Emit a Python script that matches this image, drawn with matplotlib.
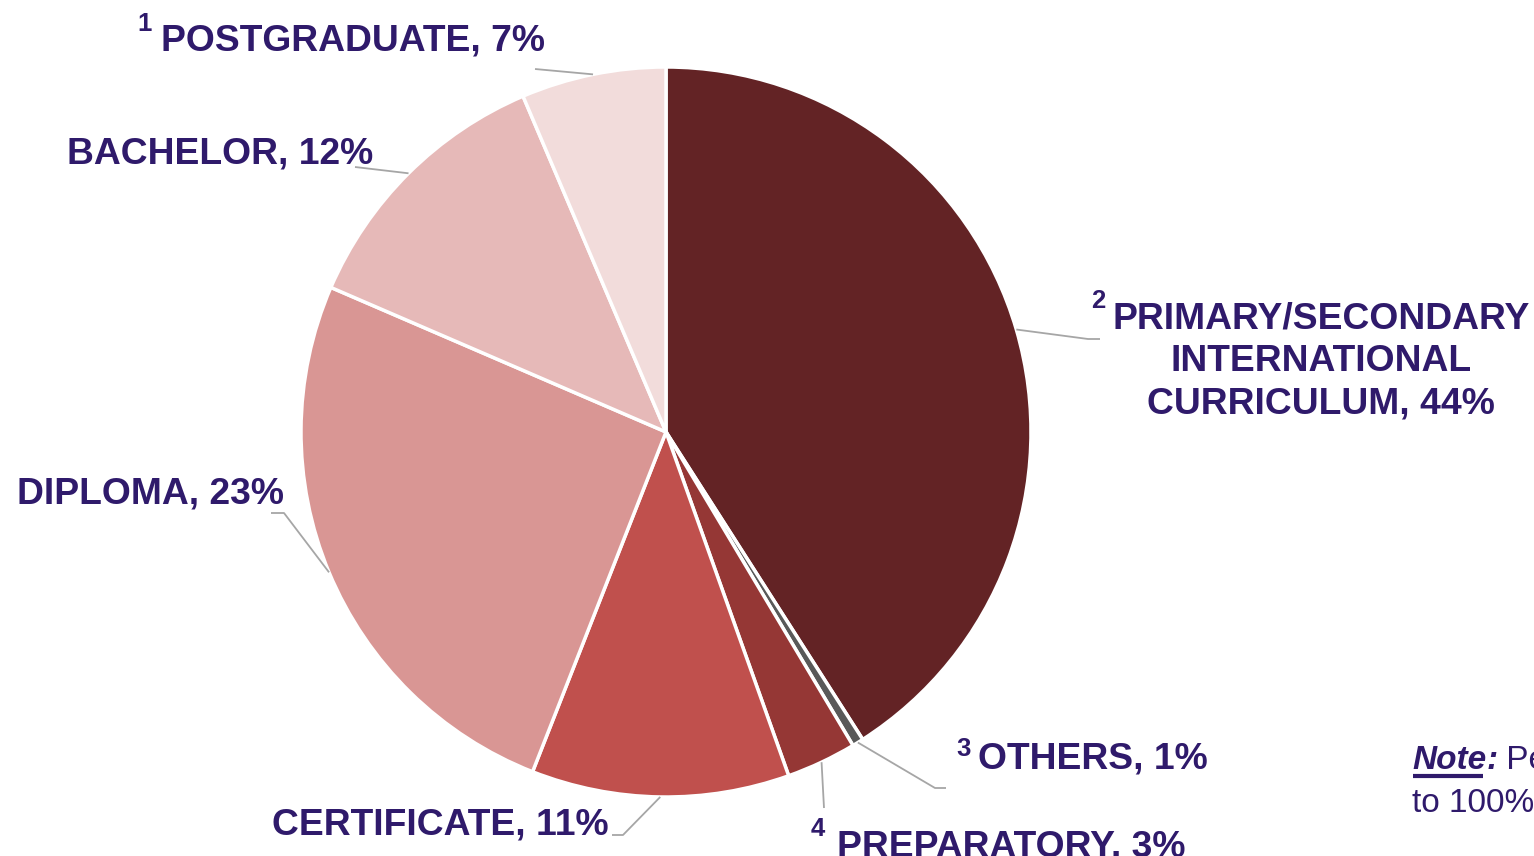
import numpy as np
import matplotlib.pyplot as plt

# slices, clockwise from 12 o'clock
categories = ["PRIMARY/SECONDARY\nINTERNATIONAL\nCURRICULUM", "OTHERS", "PREPARATORY",
              "CERTIFICATE", "DIPLOMA", "BACHELOR", "POSTGRADUATE"]
shares = [40.9, 0.5, 3.1, 11.4, 25.5, 12.1, 6.4]        # slice sizes as drawn
label_pct = [44, 1, 3, 11, 23, 12, 7]                    # percentages printed in labels
footnotes = ["2", "3", "4", "", "", "", "1"]
colors = ["#632325", "#595959", "#953735", "#C0504D", "#D99694", "#E6B9B8", "#F2DCDB"]

TXT = "#2F1A6B"
LINE = "#A6A6A6"
FONT = "Liberation Sans"

W, H = 1534, 856
fig = plt.figure(figsize=(W / 100, H / 100), dpi=100)
ax = fig.add_axes([0, 0, 1, 1])

cx, cy, r = 666, 432, 365
wedges, _ = ax.pie(shares, colors=colors, center=(cx, cy), radius=r,
                   startangle=-90, counterclock=True,
                   wedgeprops={"edgecolor": "white", "linewidth": 2.5})
ax.set_xlim(0, W)
ax.set_ylim(H, 0)
ax.set_aspect("equal")
ax.axis("off")

# label layout: (x, baseline y of last line, ha), footnote position, leader path after rim point
layout = [
    ((1321, 413, "center"), (1091, 289), [(1088, 339), (1100, 339)]),
    ((978, 768, "left"), (956, 737), [(935, 788), (946, 788)]),
    ((837, 857, "left"), (811, 817), [(824, 808)]),
    ((272, 835, "left"), None, [(623, 835), (612, 835)]),
    ((17, 503, "left"), None, [(284, 513), (271, 513)]),
    ((67, 163, "left"), None, [(355, 167)]),
    ((161, 50, "left"), (137, 12), [(535, 69)]),
]

for w, name, pct, fn, (pos, fpos, path) in zip(wedges, categories, label_pct, footnotes, layout):
    mid = np.deg2rad((w.theta1 + w.theta2) / 2)
    rim = (cx + r * np.cos(mid), cy + r * np.sin(mid))
    pts = [rim] + path
    ax.plot([p[0] for p in pts], [p[1] for p in pts], color=LINE, lw=1.3,
            solid_capstyle="butt", zorder=1)
    x, y, ha = pos
    ax.text(x, y, f"{name}, {pct}%", ha=ha, va="baseline", color=TXT,
            fontsize=26.8, fontweight="bold", family=FONT, linespacing=1.26,
            multialignment="center")
    if fn:
        ax.text(fpos[0], fpos[1], fn, ha="left", va="top", color=TXT,
                fontsize=18.5, fontweight="bold", family=FONT)

# note at the right edge (runs off the canvas as in the original)
NS = 24
t1 = ax.text(1412, 769, "Note", ha="left", va="baseline", color=TXT, fontsize=NS,
             fontweight="bold", fontstyle="italic", family=FONT)
t2 = ax.annotate(":", xy=(1, 0), xycoords=t1, ha="left", va="bottom", color=TXT,
                 fontsize=NS, fontweight="bold", fontstyle="italic", family=FONT)
ax.annotate(" Percentages may not add up", xy=(1, 0), xycoords=t2, ha="left", va="bottom",
            color=TXT, fontsize=NS, family=FONT)
ax.text(1412, 812, "to 100% due to rounding", ha="left", va="baseline", color=TXT,
        fontsize=NS, family=FONT)

fig.canvas.draw()
bb = t1.get_window_extent()
inv = ax.transData.inverted()
(x0, _), (x1, _) = inv.transform([(bb.x0, 0), (bb.x1, 0)])
ax.plot([x0 + 1, x1 - 3], [776, 776], color=TXT, lw=3, solid_capstyle="butt")

fig.savefig("out.png", dpi=100)
